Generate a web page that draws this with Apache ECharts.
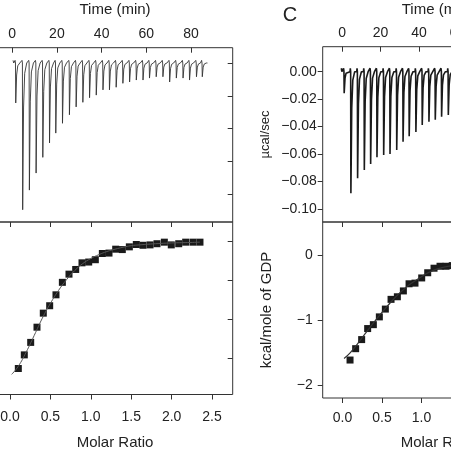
<!DOCTYPE html>
<html><head><meta charset="utf-8">
<script src="https://cdn.jsdelivr.net/npm/echarts@6/dist/echarts.min.js"></script>
<style>html,body{margin:0;padding:0;background:#fff;overflow:hidden;width:451px;height:451px}
#wrap{position:relative;width:451px;height:451px;overflow:hidden}
#c{position:absolute;left:-50px;top:0;width:700px;height:451px}</style>
</head><body><div id="wrap"><div id="c"></div></div>
<script>
// ---- tick values ----
const timeTicks = [0, 20, 40, 60, 80];
const molarTicks = [0, 0.5, 1, 1.5, 2, 2.5];
const rawTicksL = [0, -0.05, -0.10, -0.15, -0.20];
const heatTicksL = [0, -1, -2, -3];
const rawTicksR = [0, -0.02, -0.04, -0.06, -0.08, -0.10];
const heatTicksR = [0, -1, -2];

// ---- left panel: raw injections (peak time in min, peak value) ----
const injTimeL = [1.6, 4.7, 7.7, 10.7, 13.7, 16.7, 19.5, 22.5, 25.6, 28.6, 31.6, 34.6, 37.6, 40.6, 43.5, 46.5, 49.5, 52.5, 55.5, 58.5, 61.4, 64.4, 67.4, 70.4, 73.4, 76.4, 79.3, 82.4, 85.0];
const peakL = [-0.061, -0.224, -0.194, -0.168, -0.144, -0.122, -0.107, -0.092, -0.079, -0.067, -0.060, -0.053, -0.049, -0.041, -0.041, -0.037, -0.031, -0.029, -0.026, -0.026, -0.023, -0.021, -0.021, -0.029, -0.023, -0.023, -0.026, -0.021, -0.021];
// left panel: integrated heats
const molarL = [0.103, 0.177, 0.256, 0.334, 0.412, 0.491, 0.569, 0.648, 0.730, 0.813, 0.891, 0.974, 1.056, 1.143, 1.225, 1.308, 1.390, 1.477, 1.563, 1.646, 1.733, 1.819, 1.910, 1.996, 2.088, 2.174, 2.265, 2.351];
const heatL = [-3.27, -2.92, -2.60, -2.21, -1.85, -1.66, -1.38, -1.06, -0.85, -0.73, -0.56, -0.54, -0.48, -0.32, -0.31, -0.21, -0.22, -0.15, -0.09, -0.11, -0.10, -0.07, -0.03, -0.10, -0.07, -0.03, -0.03, -0.03];
const fitXL = [0.02, 0.1, 0.2, 0.3, 0.4, 0.5, 0.6, 0.7, 0.8, 0.9, 1.0, 1.1, 1.2, 1.3, 1.4, 1.5, 1.6, 1.8, 2.0, 2.2, 2.35];
const fitYL = [-3.42, -3.22, -2.85, -2.42, -1.98, -1.60, -1.27, -0.99, -0.76, -0.58, -0.45, -0.35, -0.27, -0.21, -0.16, -0.12, -0.10, -0.07, -0.05, -0.04, -0.03];

// ---- right panel (C) ----
const injTimeR = [1.0, 4.5, 8.0, 11.5, 14.8, 18.1, 21.6, 24.9, 28.4, 31.7, 34.9, 38.4, 41.7, 45.2, 48.5, 51.8, 55.3, 58.7];
const peakR = [-0.0157, -0.0886, -0.0777, -0.0716, -0.0672, -0.0624, -0.0607, -0.0600, -0.0570, -0.0510, -0.0470, -0.0440, -0.0388, -0.0364, -0.0350, -0.0328, -0.0315, -0.0300];
const molarR = [0.096, 0.167, 0.243, 0.319, 0.391, 0.467, 0.543, 0.615, 0.695, 0.771, 0.843, 0.918, 1.003, 1.079, 1.159, 1.235, 1.311, 1.39];
const heatR = [-1.615, -1.44, -1.30, -1.13, -1.07, -0.95, -0.83, -0.68, -0.64, -0.55, -0.44, -0.43, -0.35, -0.27, -0.20, -0.17, -0.17, -0.16];
const fitXR = [0.02, 0.1, 0.2, 0.3, 0.4, 0.5, 0.6, 0.7, 0.8, 0.9, 1.0, 1.1, 1.2, 1.3, 1.4, 1.5];
const fitYR = [-1.59, -1.50, -1.35, -1.19, -1.03, -0.88, -0.74, -0.61, -0.50, -0.41, -0.33, -0.26, -0.21, -0.18, -0.16, -0.15];

// trace built from the read injection peaks (baseline -> small hook -> peak -> recovery)
function trace(times, peaks, t0, t1, hook, w) {
  const pts = [[t0, hook], [t0 + 0.3, 0]];
  times.forEach((t, i) => {
    const p = peaks[i];
    pts.push([t - 0.45, 0], [t - 0.3, hook], [t - 0.12, 0], [t, p],
             [t + 0.4 * w, p * 0.3], [t + 0.9 * w, p * 0.07], [t + 1.8 * w, 0]);
  });
  pts.push([t1, 0]);
  return pts;
}
const zip = (a, b) => a.map((v, i) => [v, b[i]]);

const OX = 50; // container offset (chart div starts 50px left of the window)
const FONT = 'Liberation Sans, Arial, sans-serif';
const C = '#222';
const tickStyle = { color: '#333', width: 1 };
const noLine = { show: false, onZero: false };
const lab = (extra) => Object.assign({ fontFamily: FONT, fontSize: 14, color: C }, extra);
const minus = (s) => s.replace('-', '\u2212');

const G = [
  { left: -10.2, top: 47.7, width: 242.9, height: 174.3 },
  { left: -10.2, top: 222, width: 242.9, height: 172.5 },
  { left: 322.7, top: 46.7, width: 224, height: 175.3 },
  { left: 322.7, top: 222, width: 224, height: 176 }
].map(g => Object.assign({ show: true, borderColor: '#333', borderWidth: 1, backgroundColor: 'transparent',
  containLabel: false, outerBoundsMode: 'none' }, g, { left: g.left + OX }));

const X = [-10, 98.6], XM = [-0.25, 2.756], XR = [-10.2, 106.6], XMR = [-0.25, 2.585];

const chart = echarts.init(document.getElementById('c'), null, { renderer: 'canvas' });
chart.setOption({
  animation: false,
  backgroundColor: '#fff',
  grid: G,
  xAxis: [
    { gridIndex: 0, type: 'value', position: 'top', min: X[0], max: X[1], axisLine: noLine, splitLine: { show: false },
      axisTick: { inside: true, length: 5, customValues: timeTicks, lineStyle: tickStyle },
      axisLabel: lab({ customValues: timeTicks, margin: 7, formatter: v => String(v) }) },
    { gridIndex: 1, type: 'value', position: 'bottom', min: XM[0], max: XM[1], axisLine: noLine, splitLine: { show: false },
      axisTick: { inside: false, length: 5, customValues: molarTicks, lineStyle: tickStyle },
      axisLabel: lab({ customValues: molarTicks, margin: 16, formatter: v => v.toFixed(1) }) },
    { gridIndex: 1, type: 'value', position: 'top', min: XM[0], max: XM[1], axisLine: noLine, splitLine: { show: false },
      axisTick: { inside: true, length: 5, customValues: molarTicks, lineStyle: tickStyle }, axisLabel: { show: false } },
    { gridIndex: 2, type: 'value', position: 'top', min: XR[0], max: XR[1], axisLine: noLine, splitLine: { show: false },
      axisTick: { inside: true, length: 5, customValues: timeTicks, lineStyle: tickStyle },
      axisLabel: lab({ customValues: timeTicks, margin: 7, formatter: v => String(v) }) },
    { gridIndex: 3, type: 'value', position: 'bottom', min: XMR[0], max: XMR[1], axisLine: noLine, splitLine: { show: false },
      axisTick: { inside: false, length: 5, customValues: molarTicks, lineStyle: tickStyle },
      axisLabel: lab({ customValues: molarTicks, margin: 13, formatter: v => v.toFixed(1) }) },
    { gridIndex: 3, type: 'value', position: 'top', min: XMR[0], max: XMR[1], axisLine: noLine, splitLine: { show: false },
      axisTick: { inside: true, length: 5, customValues: molarTicks, lineStyle: tickStyle }, axisLabel: { show: false } }
  ],
  yAxis: [
    { gridIndex: 0, type: 'value', position: 'left', min: -0.2427, max: 0.02336, axisLine: noLine, splitLine: { show: false }, axisTick: { show: false }, axisLabel: { show: false } },
    { gridIndex: 0, type: 'value', position: 'right', min: -0.2427, max: 0.02336, axisLine: noLine, splitLine: { show: false },
      axisTick: { inside: true, length: 5, customValues: rawTicksL, lineStyle: tickStyle }, axisLabel: { show: false } },
    { gridIndex: 1, type: 'value', position: 'left', min: -3.936, max: 0.487, axisLine: noLine, splitLine: { show: false }, axisTick: { show: false }, axisLabel: { show: false } },
    { gridIndex: 1, type: 'value', position: 'right', min: -3.936, max: 0.487, axisLine: noLine, splitLine: { show: false },
      axisTick: { inside: true, length: 5, customValues: heatTicksL, lineStyle: tickStyle }, axisLabel: { show: false } },
    { gridIndex: 2, type: 'value', position: 'left', min: -0.1095, max: 0.0182, axisLine: noLine, splitLine: { show: false },
      axisTick: { inside: false, length: 5, customValues: rawTicksR, lineStyle: tickStyle },
      axisLabel: lab({ customValues: rawTicksR, margin: 6, formatter: v => minus(v.toFixed(2)) }) },
    { gridIndex: 3, type: 'value', position: 'left', min: -2.2, max: 0.512, axisLine: noLine, splitLine: { show: false },
      axisTick: { inside: false, length: 5, customValues: heatTicksR, lineStyle: tickStyle },
      axisLabel: lab({ customValues: heatTicksR, margin: 10, formatter: v => minus(String(v)) }) }
  ],
  series: [
    { type: 'line', xAxisIndex: 0, yAxisIndex: 0, data: trace(injTimeL, peakL, 0.4, 87.3, 0.004, 1.0),
      showSymbol: false, symbol: 'none', lineStyle: { color: '#333', width: 0.9 }, clip: true },
    { type: 'line', xAxisIndex: 1, yAxisIndex: 2, data: zip(fitXL, fitYL), smooth: true,
      showSymbol: false, symbol: 'none', lineStyle: { color: '#555', width: 1 } },
    { type: 'scatter', xAxisIndex: 1, yAxisIndex: 2, data: zip(molarL, heatL), symbol: 'rect', symbolSize: 7,
      itemStyle: { color: '#1a1a1a', opacity: 1 } },
    { type: 'line', xAxisIndex: 3, yAxisIndex: 4, data: trace(injTimeR, peakR, -0.5, 62, 0.0025, 1.1),
      showSymbol: false, symbol: 'none', lineStyle: { color: '#1a1a1a', width: 1.6 }, clip: true },
    { type: 'line', xAxisIndex: 4, yAxisIndex: 5, data: zip(fitXR, fitYR), smooth: true,
      showSymbol: false, symbol: 'none', lineStyle: { color: '#333', width: 1.2 } },
    { type: 'scatter', xAxisIndex: 4, yAxisIndex: 5, data: zip(molarR, heatR), symbol: 'rect', symbolSize: 7,
      itemStyle: { color: '#1a1a1a', opacity: 1 } }
  ],
  graphic: [
    { type: 'text', x: 115 + OX, y: 10, style: { text: 'Time (min)', font: '15px ' + FONT, fill: C, align: 'center', verticalAlign: 'middle' } },
    { type: 'text', x: 290 + OX, y: 15, style: { text: 'C', font: '20px ' + FONT, fill: C, align: 'center', verticalAlign: 'middle' } },
    { type: 'text', x: 401.7 + OX, y: 10, style: { text: 'Time (min)', font: '15px ' + FONT, fill: C, align: 'left', verticalAlign: 'middle' } },
    { type: 'text', x: 115 + OX, y: 442.5, style: { text: 'Molar Ratio', font: '15px ' + FONT, fill: C, align: 'center', verticalAlign: 'middle' } },
    { type: 'text', x: 400.7 + OX, y: 442.5, style: { text: 'Molar Ratio', font: '15px ' + FONT, fill: C, align: 'left', verticalAlign: 'middle' } },
    { type: 'text', x: 265 + OX, y: 134.5, rotation: Math.PI / 2, style: { text: '\u00b5cal/sec', font: '13px ' + FONT, fill: C, align: 'center', verticalAlign: 'middle' } },
    { type: 'text', x: 266.7 + OX, y: 310, rotation: Math.PI / 2, style: { text: 'kcal/mole of GDP', font: '15px ' + FONT, fill: C, align: 'center', verticalAlign: 'middle' } }
  ]
});
</script></body></html>
